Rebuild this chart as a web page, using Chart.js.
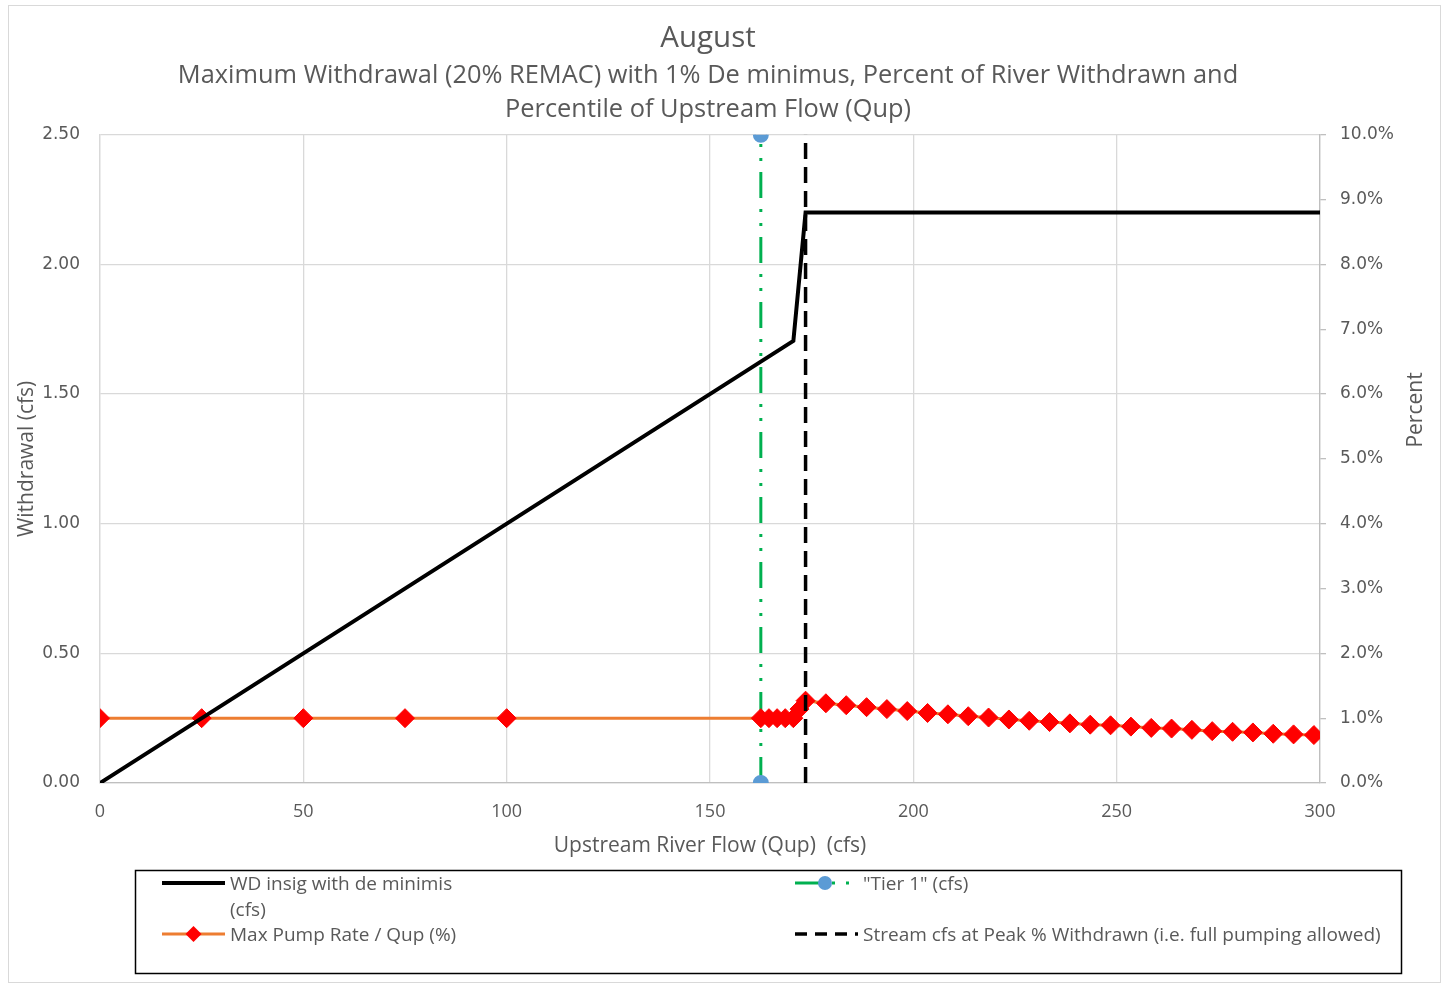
<!DOCTYPE html>
<html>
<head>
<meta charset="utf-8">
<script src="https://cdn.jsdelivr.net/npm/chart.js@4.4.0/dist/chart.umd.min.js"></script>
<style>
  html, body { margin: 0; padding: 0; background: #fff; }
  #wrap { width: 1447px; height: 986px; }
</style>
</head>
<body>
<div id="wrap"><canvas id="myChart" width="1447" height="986"></canvas></div>
<script>
// values
var wdX = [0, 170.5, 173.5, 300];
var wdY = [0, 1.705, 2.2, 2.2];

var tier1X = [162.5, 162.5];
var tier1Y = [0, 2.5];

var peakX = [173.5, 173.5];
var peakY = [0, 2.5];

var pumpX = [0, 25, 50, 75, 100, 162.5, 164.5, 166.5, 168.5, 170.5, 172, 173.5,
    178.5, 183.5, 188.5, 193.5, 198.5, 203.5, 208.5, 213.5, 218.5, 223.5, 228.5,
    233.5, 238.5, 243.5, 248.5, 253.5, 258.5, 263.5, 268.5, 273.5, 278.5, 283.5,
    288.5, 293.5, 298.5];
var pumpPct = [1, 1, 1, 1, 1, 1, 1, 1, 1, 1, 1.14, 1.27,
    1.23, 1.20, 1.17, 1.14, 1.11, 1.08, 1.06, 1.03, 1.01, 0.98, 0.96,
    0.94, 0.92, 0.90, 0.89, 0.87, 0.85, 0.84, 0.82, 0.80, 0.79, 0.78,
    0.76, 0.75, 0.74];

var labels = ['WD insig with de minimis (cfs)', '"Tier 1" (cfs)',
    'Max Pump Rate / Qup (%)', 'Stream cfs at Peak % Withdrawn (i.e. full pumping allowed)'];

function pts(xs, ys) {
    return xs.map(function (x, i) { return { x: x, y: ys[i] }; });
}

var grey = '#595959';
var tier1Dash = [26, 11, 3, 11, 3, 11];
var peakDash = [16, 8];

// outer frame
var framePlugin = {
    id: 'frame',
    beforeDraw: function (chart) {
        var c = chart.ctx;
        c.save();
        c.fillStyle = '#fff';
        c.fillRect(0, 0, chart.width, chart.height);
        c.strokeStyle = '#d9d9d9';
        c.lineWidth = 1;
        c.strokeRect(8.5, 5.5, 1432, 977);
        c.restore();
    }
};

// right axis title reads bottom-to-top in the original
var rightTitlePlugin = {
    id: 'rightTitle',
    afterDraw: function (chart) {
        var c = chart.ctx;
        c.save();
        c.translate(1416, 410);
        c.rotate(-Math.PI / 2);
        c.font = '21px "Open Sans"';
        c.fillStyle = grey;
        c.textAlign = 'center';
        c.textBaseline = 'middle';
        c.fillText('Percent', 0, 0);
        c.restore();
    }
};

// legend in two columns inside a box, like the original
var legendPlugin = {
    id: 'boxLegend',
    afterDraw: function (chart) {
        var c = chart.ctx;
        var ds = chart.data.datasets;
        c.save();
        c.strokeStyle = '#000';
        c.lineWidth = 1.5;
        c.strokeRect(135.5, 870.5, 1266, 103);
        c.font = '19px "Open Sans"';
        c.fillStyle = grey;
        c.textBaseline = 'middle';
        c.textAlign = 'left';

        // WD insig
        c.strokeStyle = ds[0].borderColor;
        c.lineWidth = 4;
        c.beginPath(); c.moveTo(162, 883); c.lineTo(225, 883); c.stroke();
        c.fillText('WD insig with de minimis', 230, 885);
        c.fillText('(cfs)', 230, 911);

        // Max pump rate
        c.strokeStyle = ds[2].borderColor;
        c.lineWidth = 3;
        c.beginPath(); c.moveTo(162, 934); c.lineTo(225, 934); c.stroke();
        c.fillStyle = ds[2].pointBackgroundColor;
        c.beginPath();
        c.moveTo(193.5, 926); c.lineTo(201.5, 934); c.lineTo(193.5, 942); c.lineTo(185.5, 934);
        c.closePath(); c.fill();
        c.fillStyle = grey;
        c.fillText(ds[2].label, 230, 936);

        // Tier 1
        c.strokeStyle = ds[3].borderColor;
        c.lineWidth = 3;
        c.setLineDash(tier1Dash);
        c.beginPath(); c.moveTo(795, 883); c.lineTo(858, 883); c.stroke();
        c.setLineDash([]);
        c.fillStyle = ds[3].pointBackgroundColor;
        c.beginPath(); c.arc(825, 883, 7, 0, Math.PI * 2); c.fill();
        c.fillStyle = grey;
        c.fillText(ds[3].label, 863, 885);

        // Stream cfs at peak
        c.strokeStyle = ds[1].borderColor;
        c.lineWidth = 3.5;
        c.setLineDash([12, 8]);
        c.beginPath(); c.moveTo(795, 934); c.lineTo(858, 934); c.stroke();
        c.setLineDash([]);
        c.fillText(ds[1].label, 863, 936);
        c.restore();
    }
};

var ctx = document.getElementById('myChart').getContext('2d');
var myChart = new Chart(ctx, {
    type: 'line',
    data: {
        datasets: [{
            label: labels[0],
            data: pts(wdX, wdY),
            borderColor: '#000000',
            borderWidth: 4,
            pointRadius: 0,
            yAxisID: 'y'
        }, {
            label: labels[3],
            data: pts(peakX, peakY),
            borderColor: '#000000',
            borderWidth: 3.5,
            borderDash: peakDash,
            pointRadius: 0,
            yAxisID: 'y'
        }, {
            label: labels[2],
            data: pts(pumpX, pumpPct),
            borderColor: '#ED7D31',
            borderWidth: 3,
            pointStyle: 'rectRot',
            pointRadius: 9.5,
            pointBackgroundColor: '#FF0000',
            pointBorderColor: '#FF0000',
            pointBorderWidth: 1,
            yAxisID: 'y1'
        }, {
            label: labels[1],
            data: pts(tier1X, tier1Y),
            borderColor: '#00B050',
            borderWidth: 3,
            borderDash: tier1Dash,
            pointRadius: 6.5,
            pointBackgroundColor: '#5B9BD5',
            pointBorderColor: '#5B9BD5',
            yAxisID: 'y'
        }]
    },
    options: {
        responsive: false,
        animation: false,
        layout: {
            padding: { top: 4.5, left: 0, right: 31, bottom: 123 }
        },
        plugins: {
            legend: { display: false },
            tooltip: { enabled: false },
            title: {
                display: true,
                text: 'August',
                color: grey,
                font: { family: 'Open Sans', size: 29.5, weight: 'normal', lineHeight: 1.2 },
                padding: { top: 16.3, bottom: 2.5 }
            },
            subtitle: {
                display: true,
                text: ['Maximum Withdrawal (20% REMAC) with 1% De minimus, Percent of River Withdrawn and',
                       'Percentile of Upstream Flow (Qup)'],
                color: grey,
                font: { family: 'Open Sans', size: 25.4, weight: 'normal', lineHeight: 1.35 },
                padding: { top: 0, bottom: 7.5 }
            }
        },
        scales: {
            x: {
                type: 'linear',
                min: 0,
                max: 300,
                ticks: {
                    stepSize: 50,
                    color: grey,
                    padding: 18,
                    maxRotation: 0,
                    font: { family: 'Open Sans', size: 18 }
                },
                grid: { color: '#d9d9d9', lineWidth: 1.3, drawTicks: false },
                border: { color: '#bfbfbf', width: 1.3 },
                title: {
                    display: true,
                    text: 'Upstream River Flow (Qup)  (cfs)',
                    color: grey,
                    font: { family: 'Open Sans', size: 21, lineHeight: 1.2 },
                    padding: { top: 0, bottom: 4.5 }
                },
                afterFit: function (s) { s.height = 80; }
            },
            y: {
                position: 'left',
                min: 0,
                max: 2.5,
                ticks: {
                    stepSize: 0.5,
                    color: grey,
                    padding: 20,
                    font: { family: 'DejaVu Sans', size: 17 },
                    callback: function (v) { return v.toFixed(2); }
                },
                grid: { color: '#d9d9d9', lineWidth: 1.3, drawTicks: false },
                border: { color: '#d9d9d9', width: 1.3 },
                title: {
                    display: true,
                    text: 'Withdrawal (cfs)',
                    color: grey,
                    font: { family: 'Open Sans', size: 21, lineHeight: 1.2 },
                    padding: { top: 14.5, bottom: 0 }
                },
                afterFit: function (s) { s.width = 100; }
            },
            y1: {
                position: 'right',
                min: 0,
                max: 10,
                ticks: {
                    stepSize: 1,
                    color: grey,
                    padding: 14,
                    font: { family: 'DejaVu Sans', size: 17 },
                    callback: function (v) { return v.toFixed(1) + '%'; }
                },
                grid: { drawOnChartArea: false, color: '#bfbfbf', tickLength: 6, lineWidth: 1.3 },
                border: { color: '#bfbfbf', width: 1.3 },
                afterFit: function (s) { s.width = 96; }
            }
        }
    },
    plugins: [framePlugin, rightTitlePlugin, legendPlugin]
});
</script>
</body>
</html>
